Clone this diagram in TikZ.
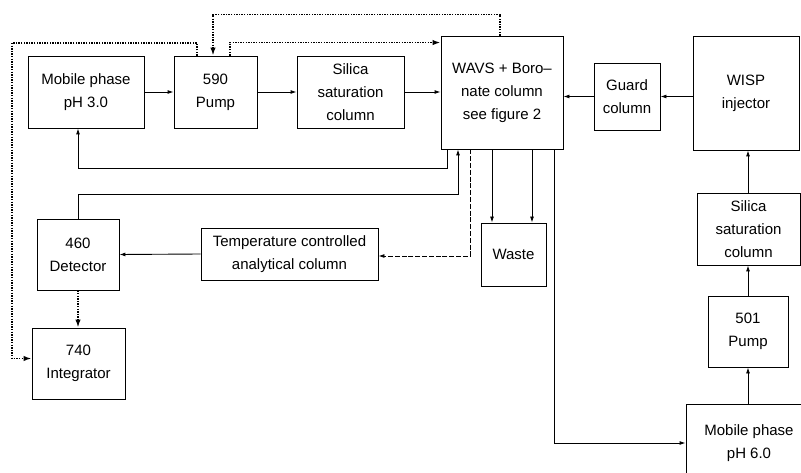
\documentclass[tikz,border=0pt]{standalone}
\usepackage{fontspec}
\setmainfont{Liberation Sans}
\usetikzlibrary{arrows.meta,calc}
\begin{document}
\begin{tikzpicture}[x=1pt,y=-1pt,
  box/.style={draw,line width=0.9pt,inner sep=0pt,align=center,
    font=\fontsize{15}{23}\selectfont},
  arr/.style={line width=0.9pt,-{Latex[length=6pt,width=4pt]}},
  dasharr/.style={line width=0.9pt,dash pattern=on 5pt off 1.8pt,-{Latex[length=6pt,width=4pt]}},
  dotarr/.style={line width=1.8pt,dash pattern=on 1.4pt off 1.2pt,-{Latex[length=8pt,width=5.5pt]}}]
\useasboundingbox (0,0) rectangle (801,473);
\clip (0,0) rectangle (801,473);
% boxes
\node[box,minimum width=116pt,minimum height=72pt] (mp3) at (86,92) {Mobile phase\\pH 3.0};
\node[box,minimum width=83pt,minimum height=72pt] (pump590) at (215.5,92) {590\\Pump};
\node[box,minimum width=107pt,minimum height=72pt] (sil1) at (350.5,92) {Silica\\saturation\\column};
\node[box,minimum width=122pt,minimum height=113pt] (wavs) at (502,92.5) {WAVS + Boro--\\nate column\\see figure 2};
\node[box,minimum width=66pt,minimum height=67pt] (guard) at (627,96.5) {Guard\\column};
\node[box,minimum width=106pt,minimum height=114pt] (wisp) at (746,93) {WISP\\injector};
\node[box,minimum width=103pt,minimum height=72pt] (sil2) at (748.5,229) {Silica\\saturation\\column};
\node[box,minimum width=80pt,minimum height=71pt] (p501) at (748,331.5) {501\\Pump};
\node[box,minimum width=126pt,minimum height=78pt] (mp6) at (749,443) {Mobile phase\\pH 6.0};
\node[box,minimum width=177pt,minimum height=52pt] (temp) at (289.5,254) {Temperature controlled\\analytical column};
\node[box,minimum width=82pt,minimum height=71pt] (det) at (78,254.5) {460\\Detector};
\node[box,minimum width=93pt,minimum height=71pt] (integ) at (78.5,363.5) {740\\Integrator};
\node[box,minimum width=65pt,minimum height=63pt] (waste) at (513.5,254.5) {Waste};
% top row flow
\draw[arr] (mp3.east) -- (pump590.west);
\draw[arr] (pump590.east) -- (sil1.west);
\draw[arr] (sil1.east) -- (sil1.east -| wavs.west);
\draw[arr] (guard.west) -- (guard.west -| wavs.east);
\draw[arr] (wisp.west |- guard.west) -- (guard.east);
% return to mobile phase 3.0
\draw[arr] ($(wavs.south)+(-55,0)$) |- ($(mp3.south)+(-8,40)$) -- ($(mp3.south)+(-8,0)$);
% detector to WAVS
\draw[arr] (det.north) |- ($(wavs.south)+(-44,45)$) -- ($(wavs.south)+(-44,0)$);
% WAVS to temperature column
\draw[dasharr] ($(wavs.south)+(-32,0)$) |- ($(temp.east)+(0,2)$);
\draw[arr] (temp.west) -- (det.east);
% waste
\draw[arr] ($(wavs.south)+(-10,0)$) -- ($(waste.north)+(-21.5,0)$);
\draw[arr] ($(wavs.south)+(30,0)$) -- ($(waste.north)+(18.5,0)$);
% WAVS to mobile phase 6.0
\draw[arr] ($(wavs.south)+(52,0)$) |- (mp6.west);
% right column
\draw[arr] (mp6.north -| p501.south) -- (p501.south);
\draw[arr] (p501.north) -- (p501.north |- sil2.south);
\draw[arr] (p501.north |- sil2.north) -- (p501.north |- wisp.south);
% dotted signal lines
\draw[dotarr] (det.south) -- (det.south |- integ.north);
\draw[dotarr] ($(pump590.north)+(-18.5,0)$) |- (12,43) |- ($(integ.west)+(0,-5)$);
\draw[dotarr] ($(wavs.north)+(-2,0)$) |- ($(pump590.north)+(-2.5,-41)$) -- ($(pump590.north)+(-2.5,0)$);
\draw[dotarr] ($(pump590.north)+(14.5,0)$) |- ($(wavs.north west)+(0,7)$);
\end{tikzpicture}
\end{document}
